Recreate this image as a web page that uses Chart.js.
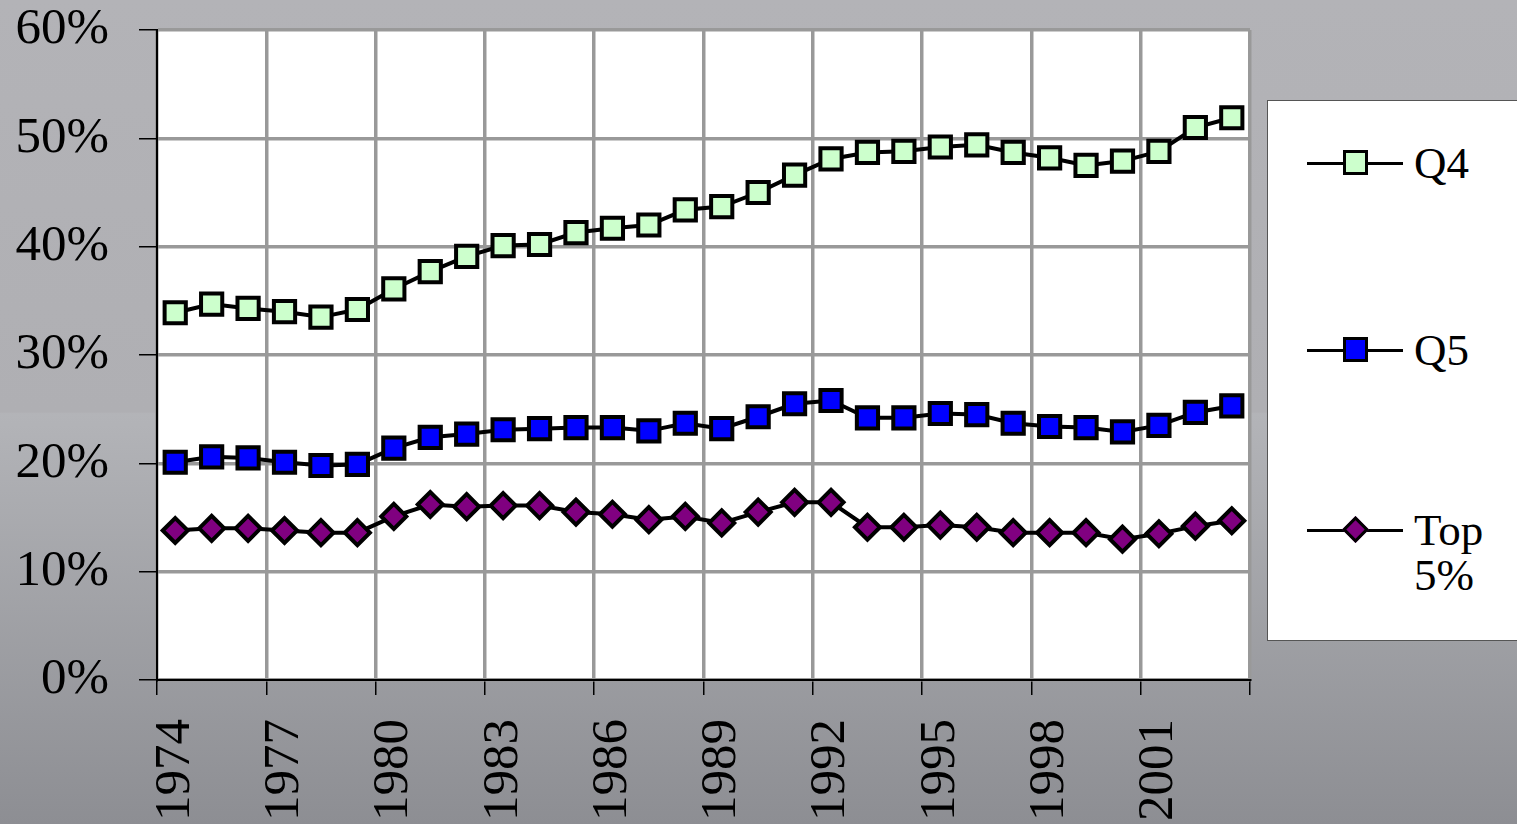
<!DOCTYPE html>
<html>
<head>
<meta charset="utf-8">
<script src="https://cdn.jsdelivr.net/npm/chart.js@4.4.1/dist/chart.umd.min.js"></script>
<style>
html, body { margin: 0; padding: 0; }
body {
    width: 1517px; height: 824px; overflow: hidden;
    background: linear-gradient(to bottom, #b3b3b7 0%, #afafb3 50%, #b3b4b8 50.2%, #8d8e93 100%);
}
#wrap { position: relative; width: 1517px; height: 824px; }
#legend {
    position: absolute; left: 1267px; top: 100px; width: 249px; height: 539px;
    background: #fff; border: 1px solid #555;
    font-family: "Liberation Serif", "Times New Roman", serif; font-size: 45px; line-height: 45px; color: #000;
}
.item { position: absolute; left: 39px; width: 205px; height: 100px; }
.item .ln { position: absolute; left: 0; top: 21px; width: 96px; height: 3px; background: #000; }
.item .mk { position: absolute; box-sizing: border-box; border: 3px solid #000; }
.item .txt { position: absolute; left: 107px; top: 0; width: 90px; }
</style>
</head>
<body>
<div id="wrap">
    <canvas id="chart" width="1517" height="824"></canvas>
    <div id="legend"></div>
</div>
<script>
const years = ['1974','1975','1976','1977','1978','1979','1980','1981','1982','1983',
    '1984','1985','1986','1987','1988','1989','1990','1991','1992','1993',
    '1994','1995','1996','1997','1998','1999','2000','2001','2002','2003'];

const q4 = [33.9, 34.7, 34.3, 34.0, 33.5, 34.2, 36.1, 37.7, 39.1, 40.1,
    40.2, 41.3, 41.7, 42.0, 43.4, 43.7, 45.0, 46.6, 48.1, 48.7,
    48.8, 49.2, 49.4, 48.7, 48.2, 47.5, 47.9, 48.8, 51.0, 51.9];

const q5 = [20.1, 20.6, 20.5, 20.1, 19.8, 19.9, 21.4, 22.4, 22.7, 23.1,
    23.2, 23.3, 23.3, 23.0, 23.7, 23.2, 24.3, 25.5, 25.8, 24.2,
    24.2, 24.6, 24.5, 23.7, 23.4, 23.3, 22.9, 23.5, 24.7, 25.3];

const top5 = [13.8, 14.0, 14.0, 13.8, 13.6, 13.6, 15.1, 16.2, 16.0, 16.1,
    16.1, 15.5, 15.3, 14.8, 15.1, 14.5, 15.5, 16.4, 16.4, 14.1,
    14.1, 14.3, 14.1, 13.6, 13.6, 13.6, 13.0, 13.5, 14.2, 14.7];

const seriesNames = ['Q4', 'Q5', 'Top 5%'];
const seriesColors = ['#ccffcc', '#0000ff', '#800080'];
const seriesShapes = ['rect', 'rect', 'rectRot'];

const FONT = 'Liberation Serif';

// fond blanc de la zone de tracé
const plotBg = {
    id: 'plotBg',
    beforeDraw(chart) {
        const a = chart.chartArea;
        const c = chart.ctx;
        c.save();
        c.fillStyle = '#ffffff';
        c.fillRect(a.left, a.top, a.right - a.left, a.bottom - a.top);
        c.restore();
    }
};

const everyThird = c => c.type !== 'tick' || c.index % 3 === 0;

function makeSet(i, values) {
    return {
        label: seriesNames[i],
        data: values,
        borderColor: '#000',
        borderWidth: 4,
        pointStyle: seriesShapes[i],
        pointRadius: seriesShapes[i] === 'rect' ? 15 : 12.5,
        pointBackgroundColor: seriesColors[i],
        pointBorderColor: '#000',
        pointBorderWidth: 4,
        tension: 0
    };
}

new Chart(document.getElementById('chart'), {
    type: 'line',
    data: {
        labels: years,
        datasets: [makeSet(0, q4), makeSet(1, q5), makeSet(2, top5)]
    },
    options: {
        responsive: false,
        animation: false,
        devicePixelRatio: 1,
        layout: { padding: { top: 30, right: 267, left: 0, bottom: 0 } },
        plugins: { legend: { display: false }, tooltip: { enabled: false } },
        scales: {
            x: {
                offset: true,
                grid: {
                    offset: true,
                    color: c => everyThird(c) ? '#999999' : 'transparent',
                    lineWidth: 3.5,
                    tickLength: 15,
                    tickColor: c => everyThird(c) ? '#000' : 'transparent',
                    tickWidth: 1.5
                },
                border: { color: '#000', width: 2 },
                ticks: {
                    autoSkip: false,
                    minRotation: 90,
                    maxRotation: 90,
                    padding: 24,
                    color: '#000',
                    font: { family: FONT, size: 51 },
                    callback(v, i) { return i % 3 === 0 ? this.getLabelForValue(v) : ''; }
                },
                afterFit(s) { s.height = 144; s.paddingLeft = 0; s.paddingRight = 0; }
            },
            y: {
                min: 0,
                max: 60,
                grid: { color: '#999999', lineWidth: 3.5, tickLength: 18, tickColor: '#000', tickWidth: 1.5 },
                border: { color: '#000', width: 2 },
                ticks: {
                    stepSize: 10,
                    padding: 30,
                    color: '#000',
                    font: { family: FONT, size: 51 },
                    callback: v => v + '%'
                },
                afterFit(s) { s.width = 157; s.paddingTop = 0; s.paddingBottom = 0; }
            }
        }
    },
    plugins: [plotBg]
});

// légende HTML
const legendTops = [40, 227, 407];
const legend = document.getElementById('legend');
seriesNames.forEach((name, i) => {
    const item = document.createElement('div');
    item.className = 'item';
    item.style.top = legendTops[i] + 'px';
    const mk = seriesShapes[i] === 'rect'
        ? `<div class="mk" style="left:36px;top:9px;width:25px;height:25px;background:${seriesColors[i]}"></div>`
        : `<div class="mk" style="left:39px;top:12px;width:19px;height:19px;background:${seriesColors[i]};transform:rotate(45deg)"></div>`;
    item.innerHTML = `<div class="ln"></div>${mk}<div class="txt">${name}</div>`;
    legend.appendChild(item);
});
</script>
</body>
</html>
